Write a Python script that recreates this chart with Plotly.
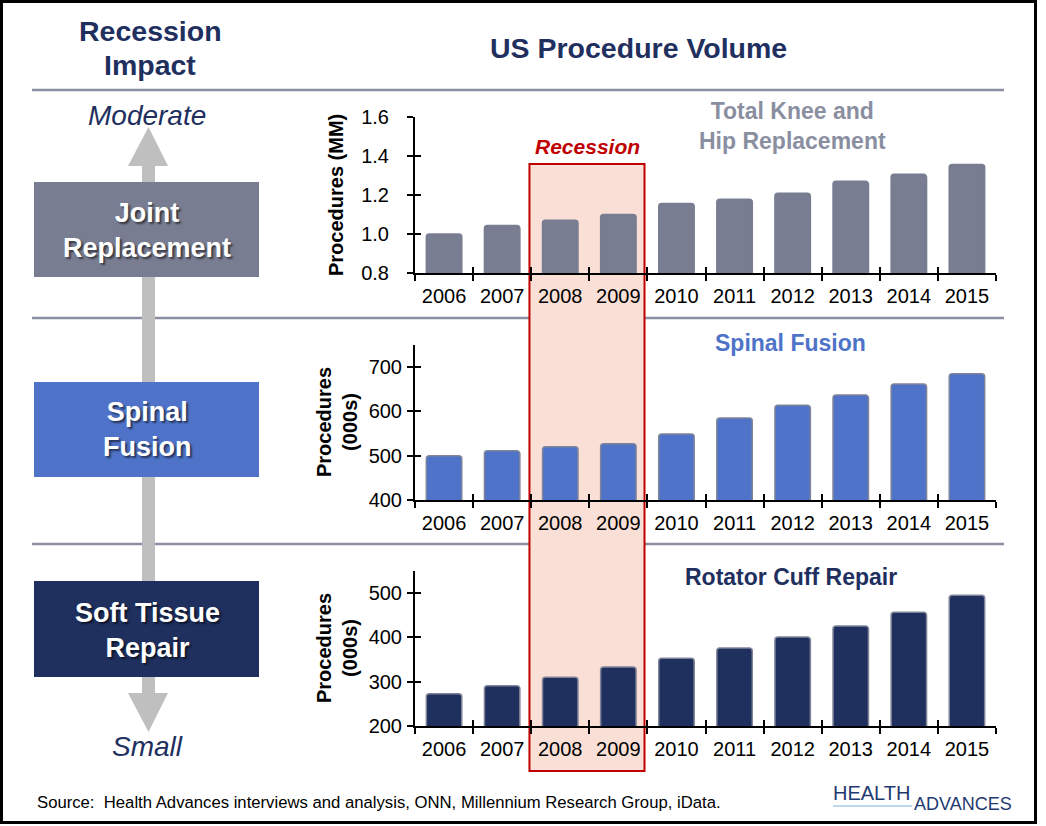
import plotly.graph_objects as go

# ---------------- data ----------------
years = ["2006", "2007", "2008", "2009", "2010", "2011", "2012", "2013", "2014", "2015"]
joint_mm = [1.00, 1.044, 1.07, 1.10, 1.157, 1.178, 1.209, 1.27, 1.306, 1.357]
spinal_k = [500, 511, 520, 527, 549, 585, 614, 637, 662, 685]
rotator_k = [273, 291, 310, 333, 353, 376, 401, 426, 457, 495]

panel_titles = ["Total Knee and<br>Hip Replacement", "Spinal Fusion", "Rotator Cuff Repair"]
y_titles = ["Procedures (MM)", "Procedures<br>(000s)", "Procedures<br>(000s)"]
y_ticks = [[0.8, 1.0, 1.2, 1.4, 1.6], [400, 500, 600, 700], [200, 300, 400, 500]]
y_ranges = [[0.8, 1.6], [400, 750], [200, 550]]
left_labels = ["Joint<br>Replacement", "Spinal<br>Fusion", "Soft Tissue<br>Repair"]
recession_years = ["2008", "2009"]

# ---------------- style ----------------
W, H = 1046, 826
FONT = "Liberation Sans, Arial, sans-serif"
NAVY = "#1f305f"
GRAYBLUE = "#787d91"
BLUE = "#4f73c8"
TITLE_GRAY = "#8a8ea1"
RED = "#c00000"
PINK = "#fadfd6"
SEP = "#8c8fa3"

bar_colors = [GRAYBLUE, BLUE, NAVY]
bar_lines = [GRAYBLUE, "#7f8498", "#7f8498"]
title_colors = [TITLE_GRAY, BLUE, NAVY]
box_colors = [GRAYBLUE, BLUE, NAVY]

# panel pixel geometry (top, bottom) of plot area
panel_px = [(117, 273), (345, 500), (571, 726)]
x_px = (415, 996)


def px(x):
    return x / W


def py(y):
    return 1 - y / H


series = [joint_mm, spinal_k, rotator_k]

fig = go.Figure()

for i, vals in enumerate(series):
    n = i + 1
    xa = "x" if n == 1 else f"x{n}"
    ya = "y" if n == 1 else f"y{n}"
    fig.add_trace(go.Bar(
        x=years, y=vals, xaxis=xa, yaxis=ya,
        marker=dict(color=bar_colors[i], line=dict(color=bar_lines[i], width=1.5), cornerradius=3),
        hoverinfo="skip", showlegend=False,
    ))
    # overlay trace carrying the inner half of the crossing ticks
    m = n + 3
    fig.add_trace(go.Bar(
        x=years, y=vals, xaxis=f"x{m}", yaxis=f"y{m}",
        marker=dict(color="rgba(0,0,0,0)", line=dict(width=0)),
        hoverinfo="skip", showlegend=False,
    ))

layout = dict(
    width=W, height=H, autosize=False,
    margin=dict(l=0, r=0, t=0, b=0, pad=0),
    paper_bgcolor="white", plot_bgcolor="rgba(0,0,0,0)",
    font=dict(family=FONT, color="black"),
    bargap=0.39, showlegend=False,
)

for i in range(3):
    n = i + 1
    top, bot = panel_px[i]
    ydom = [py(bot), py(top)]
    xdom = [px(x_px[0]), px(x_px[1])]
    xk = "xaxis" if n == 1 else f"xaxis{n}"
    yk = "yaxis" if n == 1 else f"yaxis{n}"
    xa = "x" if n == 1 else f"x{n}"
    ya = "y" if n == 1 else f"y{n}"
    layout[xk] = dict(
        domain=xdom, anchor=ya, type="category", showgrid=False, zeroline=False,
        showline=True, linecolor="black", linewidth=2, automargin=False,
        ticks="outside", ticklen=6, tickwidth=2, tickcolor="black", tickson="boundaries",
        tickfont=dict(size=20, family=FONT, color="black"), ticklabelstandoff=4,
        fixedrange=True,
    )
    layout[yk] = dict(
        domain=ydom, anchor=xa, range=y_ranges[i], showgrid=False, zeroline=False,
        showline=True, linecolor="black", linewidth=2, automargin=False,
        ticks="outside", ticklen=6, tickwidth=2, tickcolor="black",
        tickvals=y_ticks[i], tickformat=".1f" if i == 0 else "d",
        tickfont=dict(size=20, family=FONT, color="black"),
        ticklabelstandoff=14 if i == 0 else 1,
        fixedrange=True,
    )
    m = n + 3
    layout[f"xaxis{m}"] = dict(
        domain=xdom, anchor=f"y{m}", overlaying=xa, type="category", showgrid=False,
        zeroline=False, showline=False, showticklabels=False, automargin=False,
        ticks="inside", ticklen=6, tickwidth=2, tickcolor="black", tickson="boundaries",
        fixedrange=True,
    )
    layout[f"yaxis{m}"] = dict(
        domain=ydom, anchor=f"x{m}", overlaying=ya, range=y_ranges[i], showgrid=False,
        zeroline=False, showline=False, showticklabels=False, automargin=False,
        ticks="inside", ticklen=6, tickwidth=2, tickcolor="black", tickvals=y_ticks[i],
        fixedrange=True,
    )

shapes = []
# separators
for y in (90, 318, 544):
    shapes.append(dict(type="line", xref="paper", yref="paper", x0=px(32), x1=px(1004),
                       y0=py(y), y1=py(y), line=dict(color=SEP, width=2.5), layer="below"))
# recession band: spans the 2008-2009 categories of the top axis, through all panels
shapes.append(dict(type="rect", xref="x", yref="paper",
                   x0=years.index(recession_years[0]) - 0.53, x1=years.index(recession_years[-1]) + 0.45,
                   y0=py(771), y1=py(164), fillcolor=PINK, line=dict(color=RED, width=2), layer="below"))
# arrow
ARROW = "#bfbfbf"
shapes.append(dict(type="rect", xref="paper", yref="paper", x0=px(142), x1=px(155),
                   y0=py(694), y1=py(165), fillcolor=ARROW, line=dict(width=0), layer="below"))
shapes.append(dict(type="path", xref="paper", yref="paper",
                   path=f"M {px(128)},{py(166)} L {px(148.5)},{py(127)} L {px(168)},{py(166)} Z",
                   fillcolor=ARROW, line=dict(width=0), layer="below"))
shapes.append(dict(type="path", xref="paper", yref="paper",
                   path=f"M {px(128)},{py(693)} L {px(148.5)},{py(732)} L {px(168)},{py(693)} Z",
                   fillcolor=ARROW, line=dict(width=0), layer="below"))
# left boxes
box_px = [(182, 277), (382, 477), (581, 677)]
for i, (t, b) in enumerate(box_px):
    shapes.append(dict(type="rect", xref="paper", yref="paper", x0=px(34), x1=px(259),
                       y0=py(b), y1=py(t), fillcolor=box_colors[i], line=dict(width=0), layer="below"))
# logo underline
shapes.append(dict(type="line", xref="paper", yref="paper", x0=px(833), x1=px(912),
                   y0=py(806), y1=py(806), line=dict(color="#a9cdea", width=1.5), layer="below"))
# frame
shapes.append(dict(type="rect", xref="paper", yref="paper", x0=px(1.5), x1=px(1035.5),
                   y0=py(822.5), y1=py(1.5), line=dict(color="black", width=3), fillcolor="rgba(0,0,0,0)",
                   layer="above"))
layout["shapes"] = shapes


def ann(text, x, y, size, color, bold=False, italic=False, xanchor="center", angle=0, shadow=None):
    t = text
    if bold:
        t = f"<b>{t}</b>"
    if italic:
        t = f"<i>{t}</i>"
    f = dict(size=size, color=color, family=FONT)
    if shadow:
        f["shadow"] = shadow
    return dict(text=t, x=px(x), y=py(y), xref="paper", yref="paper", showarrow=False,
                xanchor=xanchor, yanchor="middle", font=f, textangle=angle)


anns = [
    ann("Recession", 150, 31, 28.5, NAVY, bold=True),
    ann("Impact", 150, 65, 28.5, NAVY, bold=True),
    ann("US Procedure Volume", 638, 48, 28.5, NAVY, bold=True),
    ann("Moderate", 147, 115, 28, NAVY, italic=True),
    ann("Small", 147, 746, 28, NAVY, italic=True),
    ann("Recession", 587, 146, 21, RED, bold=True, italic=True),
    ann("Source:  Health Advances interviews and analysis, ONN, Millennium Research Group, iData.",
        35, 802, 16.7, "black", xanchor="left"),
    ann("HEALTH", 871, 793, 20, "#1f3a70"),
    ann("ADVANCES", 963, 804, 18, "#1f3a70"),
]
title_pos = [(792, 126), (791, 343), (791, 577)]
ytitle_pos = [(336, 195), (337, 422), (337, 648)]
label_pos = [(147, 230), (147, 429), (147, 630)]
for i in range(3):
    anns.append(ann(panel_titles[i], title_pos[i][0], title_pos[i][1], 23, title_colors[i], bold=True))
    anns.append(ann(y_titles[i], ytitle_pos[i][0], ytitle_pos[i][1], 20, "black", bold=True, angle=-90))
    anns.append(ann(left_labels[i], label_pos[i][0], label_pos[i][1], 27, "white", bold=True,
                    shadow="2px 2px 2px rgba(0,0,0,0.55)"))
layout["annotations"] = anns

fig.update_layout(**layout)
fig.write_html("out.html", config={"displayModeBar": False},
               post_script="document.body.style.margin='0';")
